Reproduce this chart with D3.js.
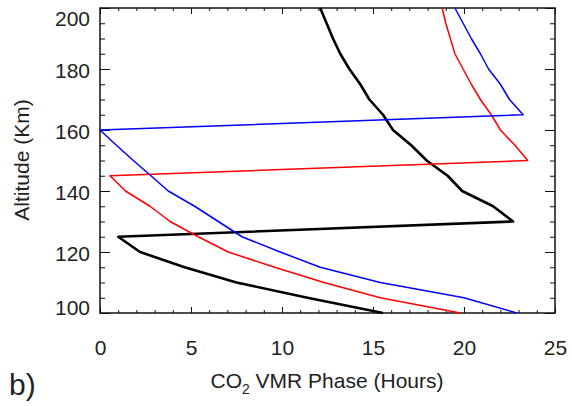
<!DOCTYPE html>
<meta charset="utf-8">

<head>
  <style>
    body {
      margin: 0;
      background: #fff;
    }

    text {
      font-family: "Liberation Sans", Arial, Helvetica, sans-serif;
      fill: #222;
    }

    .axis path,
    .axis line {
      stroke: #111;
    }
  </style>
</head>

<body>
  <script src="https://d3js.org/d3.v7.min.js"></script>

  <div id="chart"></div>

  <script>

    // altitude (km) and CO2 VMR phase (hours) for each curve
    var altitude = [100, 105, 110, 115, 120, 125, 130, 135, 140, 145, 150,
      155, 160, 165, 170, 175, 180, 185, 190, 195, 200];
    var phaseBlack = [15.55, 11.4, 7.5, 4.65, 2.2, 1.0, 22.7, 21.6, 19.9, 19.1, 17.95,
      17.1, 16.1, 15.55, 14.8, 14.3, 13.7, 13.2, 12.8, 12.45, 12.1];
    var phaseRed = [19.8, 15.4, 12.3, 9.6, 7.05, 5.4, 3.85, 2.75, 1.4, 0.55, 23.5,
      22.8, 22.0, 21.5, 20.9, 20.4, 19.95, 19.5, 19.25, 19.0, 18.8];
    var phaseBlue = [22.9, 20.0, 15.4, 12.1, 9.9, 7.8, 6.5, 5.2, 3.75, 2.8, 1.83,
      0.9, 0.0, 23.25, 22.5, 22.0, 21.35, 20.9, 20.4, 19.95, 19.5];

    var xTicks = [0, 5, 10, 15, 20, 25];
    var yTicks = [100, 120, 140, 160, 180, 200];

    var width = 572,
      height = 406;

    var svg = d3.select('#chart')
      .append('svg')
      .attr('width', width)
      .attr('height', height);

    var x = d3.scaleLinear().domain([0, 25]).range([100, 555]);
    var y = d3.scaleLinear().domain([100, 200]).range([313, 8]);

    // minor ticks first, then the major ones with labels
    svg.append('g').attr('class', 'axis')
      .attr('transform', 'translate(0,313)')
      .call(d3.axisBottom(x).tickValues(d3.range(0, 26, 1)).tickSize(-3).tickFormat(''));
    svg.append('g').attr('class', 'axis')
      .attr('transform', 'translate(0,8)')
      .call(d3.axisTop(x).tickValues(d3.range(0, 26, 1)).tickSize(-3).tickFormat(''));
    svg.append('g').attr('class', 'axis')
      .attr('transform', 'translate(100,0)')
      .call(d3.axisLeft(y).tickValues(d3.range(100, 201, 5)).tickSize(-5).tickFormat(''));
    svg.append('g').attr('class', 'axis')
      .attr('transform', 'translate(555,0)')
      .call(d3.axisRight(y).tickValues(d3.range(100, 201, 5)).tickSize(-5).tickFormat(''));

    var xAxis = svg.append('g').attr('class', 'axis')
      .attr('transform', 'translate(0,313)')
      .call(d3.axisBottom(x).tickValues(xTicks).tickSize(-6).tickPadding(27).tickFormat(d3.format('d')));
    svg.append('g').attr('class', 'axis')
      .attr('transform', 'translate(0,8)')
      .call(d3.axisTop(x).tickValues(xTicks).tickSize(-6).tickFormat(''));
    var yAxis = svg.append('g').attr('class', 'axis')
      .attr('transform', 'translate(100,0)')
      .call(d3.axisLeft(y).tickValues(yTicks).tickSize(-10).tickPadding(10).tickFormat(d3.format('d')));
    svg.append('g').attr('class', 'axis')
      .attr('transform', 'translate(555,0)')
      .call(d3.axisRight(y).tickValues(yTicks).tickSize(-10).tickFormat(''));

    svg.selectAll('.axis .domain').remove();
    svg.selectAll('.axis text').style('font-size', '21px').attr('fill', '#222');

    // IDL-style: end labels nudged inside the window
    yAxis.selectAll('text')
      .attr('dy', d => d == 200 ? '0.85em' : d == 100 ? '0.05em' : '0.42em');

    svg.append('rect')
      .attr('x', 100).attr('y', 8)
      .attr('width', 455).attr('height', 305)
      .attr('fill', 'none')
      .attr('stroke', '#111')
      .attr('stroke-width', 1.5);

    var series = [
      { values: phaseBlack, color: '#000', w: 2.6 },
      { values: phaseRed, color: '#ff0000', w: 1.5 },
      { values: phaseBlue, color: '#0000ff', w: 1.5 }
    ];

    var line = d3.line()
      .x(d => x(d[0]))
      .y(d => y(d[1]));

    svg.selectAll('path.curve')
      .data(series)
      .enter()
      .append('path')
      .attr('class', 'curve')
      .attr('d', s => line(s.values.map((v, i) => [v, altitude[i]])))
      .attr('fill', 'none')
      .attr('stroke', s => s.color)
      .attr('stroke-width', s => s.w)
      .attr('stroke-linejoin', 'round');

    var xLabel = svg.append('text')
      .attr('x', 327)
      .attr('y', 388)
      .attr('text-anchor', 'middle')
      .style('font-size', '21px');
    xLabel.append('tspan').text('CO');
    xLabel.append('tspan').attr('dy', 6).style('font-size', '14px').text('2');
    xLabel.append('tspan').attr('dy', -6).text(' VMR Phase (Hours)');

    svg.append('text')
      .attr('transform', 'translate(29,160) rotate(-90)')
      .attr('text-anchor', 'middle')
      .style('font-size', '21px')
      .text('Altitude (Km)');

    svg.append('text')
      .attr('x', 9)
      .attr('y', 395)
      .style('font-size', '30px')
      .text('b)');
  </script>
</body>
